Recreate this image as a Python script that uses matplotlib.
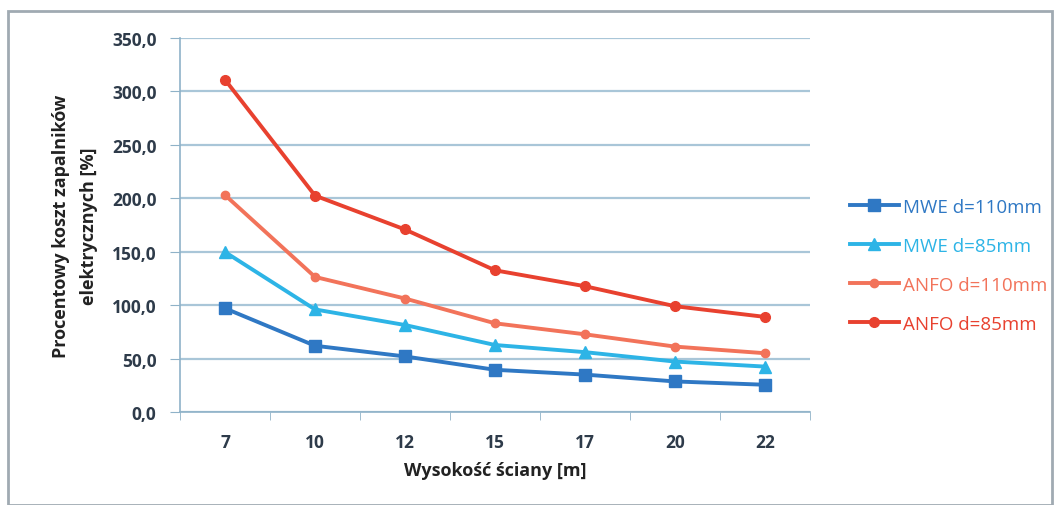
import matplotlib
matplotlib.use("Agg")
import numpy as np
from matplotlib import pyplot as plt
from matplotlib.patches import Rectangle
from matplotlib.ticker import FuncFormatter, FixedLocator

heights = ["7", "10", "12", "15", "17", "20", "22"]

mwe_110 = [97.0, 62.0, 52.0, 39.5, 35.0, 28.6, 25.5]
mwe_85 = [149.7, 96.0, 81.4, 62.7, 56.0, 47.2, 42.5]
anfo_110 = [203.0, 126.4, 106.2, 83.0, 72.7, 61.2, 55.0]
anfo_85 = [311.0, 202.5, 170.8, 132.6, 117.7, 99.0, 89.0]

labels = ["MWE d=110mm", "MWE d=85mm", "ANFO d=110mm", "ANFO d=85mm"]
colors = ["#2F78C4", "#2DB4E6", "#F2735A", "#E8412F"]
markers = ["s", "^", "o", "o"]
msizes = [8, 8, 6, 7]

plt.rcParams['font.family'] = ['Open Sans', 'DejaVu Sans']

fig = plt.figure(figsize=(10.62, 5.06), dpi=100)
fig.patch.set_facecolor("white")
ax = fig.add_axes([180/1062, 1-413/506, 630/1062, 374/506])

x = np.arange(len(heights))
series = [mwe_110, mwe_85, anfo_110, anfo_85]
handles = []
for vals, lab, c, m, ms in zip(series, labels, colors, markers, msizes):
    h, = ax.plot(x, vals, color=c, lw=2.8, marker=m, markersize=ms,
                 label=lab, zorder=3)
    handles.append(h)

ax.set_xlim(-0.5, len(heights) - 0.5)
ax.set_ylim(0, 350)
ax.set_yticks(np.arange(0, 351, 50))
ax.yaxis.set_major_formatter(FuncFormatter(lambda v, p: f"{v:.1f}".replace(".", ",")))
ax.set_xticks(x)
ax.set_xticklabels(heights)
ax.xaxis.set_minor_locator(FixedLocator(np.arange(-0.5, len(heights), 1.0)))

grid_c = "#A9C6D8"
ax.grid(axis="y", color=grid_c, lw=1.6, zorder=0)
for s in ["top", "right"]:
    ax.spines[s].set_visible(False)
ax.spines["left"].set_color("#8FB2C8")
ax.spines["bottom"].set_color("#8FB2C8")
ax.spines["left"].set_linewidth(1.2)
ax.spines["bottom"].set_linewidth(1.2)

ax.tick_params(axis="y", length=7, color="#8FB2C8", labelsize=12.5,
               labelcolor="#2E3B4A", pad=10)
ax.tick_params(axis="x", which="major", length=0, labelsize=12.5,
               labelcolor="#2E3B4A", pad=15)
ax.tick_params(axis="x", which="minor", length=6, color="#8FB2C8")
for t in ax.get_yticklabels() + ax.get_xticklabels():
    t.set_fontweight("bold")

ax.set_xlabel("Wysokość ściany [m]", fontsize=13, fontweight="bold",
              color="#222222", labelpad=7)
ax.set_ylabel("Procentowy koszt zapalników\nelektrycznych [%]", fontsize=13,
              fontweight="bold", color="#222222", labelpad=10,
              linespacing=1.7)

leg = fig.legend(handles=handles, loc="upper left",
                 bbox_to_anchor=(833/1062, 1-182/506), frameon=False,
                 fontsize=13.5, handlelength=2.6, handletextpad=0.25,
                 labelspacing=1.12)
for txt, c in zip(leg.get_texts(), colors):
    txt.set_color(c)

# outer frame of the chart area
fig.patches.append(Rectangle((8/1062, 0), 1044/1062, 1-12/506,
                             transform=fig.transFigure, fill=False,
                             edgecolor="#A0AAB2", lw=2))

fig.savefig("out.png", dpi=100, facecolor="white")
